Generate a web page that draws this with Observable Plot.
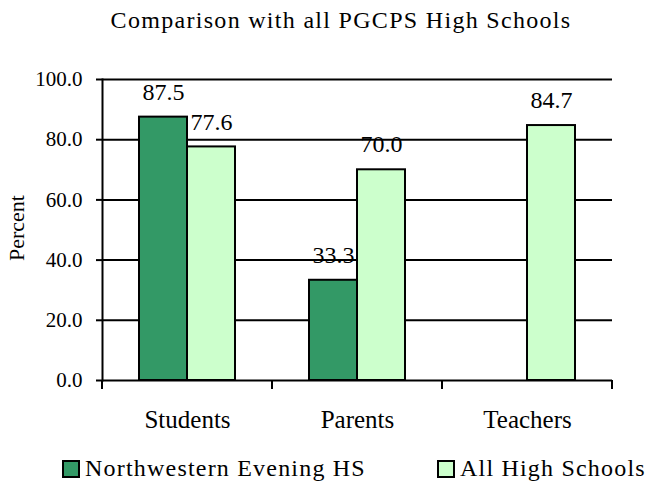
<!DOCTYPE html>
<html>
<head>
<meta charset="utf-8">
<script src="https://cdn.jsdelivr.net/npm/d3@7"></script>
<script src="https://cdn.jsdelivr.net/npm/@observablehq/plot@0.6"></script>
<style>
  body { margin: 0; background: #fff; }
  #wrap { width: 648px; height: 487px; position: relative; font-family: "Liberation Serif", "Times New Roman", serif; color: #000; }
  #title { height: 44px; box-sizing: border-box; padding-top: 8px; padding-left: 34px; font-size: 24px; line-height: 24px; letter-spacing: 1.3px; text-align: center; white-space: nowrap; }
  #chart { height: 400px; }
  #chart svg, #chart svg text, #chart svg g { font-family: "Liberation Serif", "Times New Roman", serif !important; }
  #ylabel { position: absolute; left: -33px; top: 217px; width: 100px; height: 22px; line-height: 22px; font-size: 22px; text-align: center; transform: rotate(-90deg); }
  #legend { height: 43px; position: relative; }
  .item { position: absolute; top: 0; height: 43px; display: flex; align-items: flex-start; white-space: nowrap; }
  .sw { width: 14px; height: 14px; border: 2px solid #000; margin-top: 16px; margin-right: 5px; }
  .lt { font-size: 24px; letter-spacing: 1.2px; line-height: 24px; margin-top: 12px; }
</style>
</head>
<body>
<div id="wrap">
  <div id="title">Comparison with all PGCPS High Schools</div>
  <div id="chart"></div>
  <div id="ylabel">Percent</div>
  <div id="legend"></div>
</div>
<script>
const categories = ["Students", "Parents", "Teachers"];
const seriesNames = ["Northwestern Evening HS", "All High Schools"];
const northwestern = [87.5, 33.3, null];
const allHigh = [77.6, 70.0, 84.7];
const yTicks = [0, 20, 40, 60, 80, 100];
const colors = ["#339966", "#CCFFCC"];

const rows = [];
categories.forEach((c, i) => {
  if (northwestern[i] != null) rows.push({cat: c, series: seriesNames[0], value: northwestern[i]});
  if (allHigh[i] != null) rows.push({cat: c, series: seriesNames[1], value: allHigh[i]});
});

// short ticks at the category boundaries below the baseline
function boundaryTicks(index, scales) {
  const [x0, x1] = scales.x.range();
  const y0 = scales.y(0);
  const g = d3.create("svg:g").attr("stroke", "black").attr("stroke-width", 2);
  for (const x of [x0, x1]) {
    g.append("line").attr("x1", x).attr("x2", x).attr("y1", y0).attr("y2", y0 + 9);
  }
  return g.node();
}

const chart = Plot.plot({
  width: 648,
  height: 400,
  marginLeft: 102,
  marginRight: 36,
  marginTop: 35,
  marginBottom: 64,
  style: {fontFamily: "'Liberation Serif', 'Times New Roman', serif", color: "black", background: "white", overflow: "visible"},
  fx: {domain: categories, padding: 0, label: null},
  x: {domain: seriesNames, paddingInner: 0, paddingOuter: 0.735, axis: null},
  y: {domain: [0, 100], label: null},
  color: {domain: seriesNames, range: colors},
  marks: [
    Plot.ruleY(yTicks, {stroke: "black", strokeWidth: 2}),
    Plot.barY(rows, {fx: "cat", x: "series", y: "value", fill: "series", stroke: "black", strokeWidth: 2}),
    Plot.text(rows, {fx: "cat", x: "series", y: "value", text: d => d.value.toFixed(1), dy: -25, fontSize: 24, fill: "black"}),
    Plot.axisY(yTicks, {tickSize: 6, tickPadding: 14, strokeWidth: 2, fontSize: 21, tickFormat: d => d.toFixed(1), label: null}),
    Plot.axisFx({anchor: "bottom", tickSize: 0, tickPadding: 30, fontSize: 25, label: null}),
    Plot.frame({anchor: "left", facetAnchor: "left", strokeWidth: 2}),
    boundaryTicks
  ]
});
document.getElementById("chart").appendChild(chart);

const legend = document.getElementById("legend");
const lefts = [62, 437];
seriesNames.forEach((name, i) => {
  const item = document.createElement("div");
  item.className = "item";
  item.style.left = lefts[i] + "px";
  const sw = document.createElement("div");
  sw.className = "sw";
  sw.style.background = colors[i];
  const t = document.createElement("div");
  t.className = "lt";
  t.textContent = name;
  item.appendChild(sw);
  item.appendChild(t);
  legend.appendChild(item);
});
</script>
</body>
</html>
